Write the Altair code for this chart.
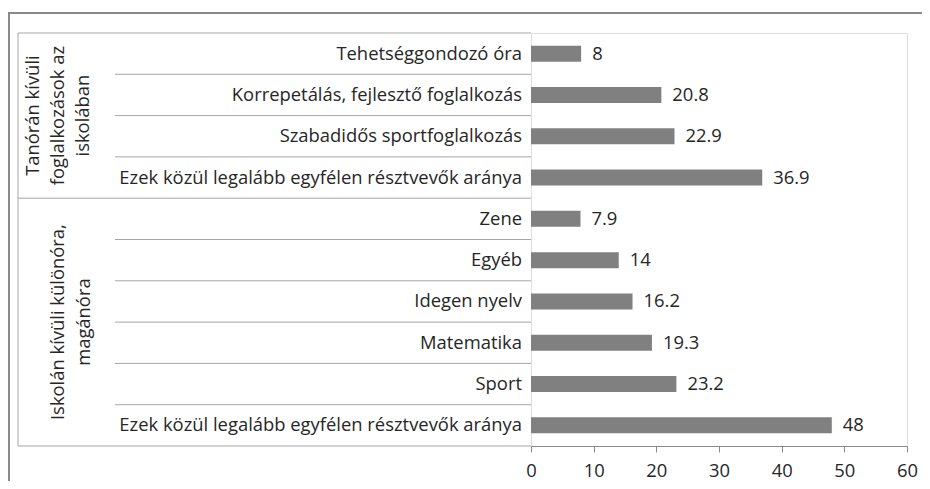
import altair as alt
import pandas as pd

keys = ["a1", "a2", "a3", "a4", "b1", "b2", "b3", "b4", "b5", "b6"]
labels = [
    "Tehetséggondozó óra",
    "Korrepetálás, fejlesztő foglalkozás",
    "Szabadidős sportfoglalkozás",
    "Ezek közül legalább egyfélen résztvevők aránya",
    "Zene",
    "Egyéb",
    "Idegen nyelv",
    "Matematika",
    "Sport",
    "Ezek közül legalább egyfélen résztvevők aránya",
]
values = [8, 20.8, 22.9, 36.9, 7.9, 14, 16.2, 19.3, 23.2, 48]
groups = ["g1"] * 4 + ["g2"] * 6
group_first = [True, False, False, False, True, False, False, False, False, False]

group_ids = ["g1", "g2"]
group_labels = ["Tanórán kívüli\nfoglalkozások az\niskolában", "Iskolán kívüli különóra,\nmagánóra"]
group_anchor = ["a2", "b3"]

x_ticks = [0, 10, 20, 30, 40, 50, 60]

df = pd.DataFrame({"key": keys, "label": labels, "value": values, "group": groups, "first": group_first})
gdf = pd.DataFrame({"group": group_ids, "text": group_labels, "anchor": group_anchor})
one = pd.DataFrame({"a": [0]})

W, H = 376, 413
FONT = "Open Sans"
FS = 18.4
TXT = "#262626"
LINE = "#a6a6a6"

yscale = alt.Scale(domain=keys, paddingInner=0, paddingOuter=0)
ynoaxis = alt.Y("key:N", scale=yscale, axis=None)

base = alt.Chart(df)

border = alt.Chart(one).mark_rect(fill=None, stroke="#8a8a8a", strokeWidth=2).encode(
    x=alt.value(-522), x2=alt.value(W + 60), y=alt.value(-20), y2=alt.value(H + 80)
)

left_line = alt.Chart(one).mark_rule(color=LINE, strokeWidth=1).encode(
    x=alt.value(-513), y=alt.value(0), y2=alt.value(H)
)
bottom_line = alt.Chart(one).mark_rule(color=LINE, strokeWidth=1).encode(
    x=alt.value(-513), x2=alt.value(0), y=alt.value(H)
)

sep_first = base.transform_filter("datum.first").mark_rule(color=LINE, strokeWidth=1).encode(
    y=alt.Y("key:N", scale=yscale, axis=None, bandPosition=0),
    x=alt.value(-513), x2=alt.value(0),
)
sep_other = base.transform_filter("!datum.first").mark_rule(color=LINE, strokeWidth=1).encode(
    y=alt.Y("key:N", scale=yscale, axis=None, bandPosition=0),
    x=alt.value(-416), x2=alt.value(0),
)

bars = base.mark_bar(color="#808080", height=16).encode(
    x=alt.X(
        "value:Q",
        scale=alt.Scale(domain=[0, 60], nice=False),
        axis=alt.Axis(
            values=x_ticks, title=None, grid=False, domainColor="#8a8a8a", tickColor="#8a8a8a",
            tickSize=6, labelPadding=9, labelFont=FONT, labelFontSize=FS, labelColor=TXT,
            labelFlush=False,
        ),
    ),
    y=alt.Y("key:N", scale=yscale,
            axis=alt.Axis(labels=False, ticks=False, title=None, domainColor="#8a8a8a", grid=False)),
)

vals = base.mark_text(align="left", baseline="middle", dx=11, font=FONT, fontSize=FS, color=TXT).encode(
    x="value:Q", y=ynoaxis, text=alt.Text("value:Q", format="")
)

cats = base.mark_text(align="right", baseline="middle", font=FONT, fontSize=FS, color=TXT).encode(
    x=alt.value(-9), y=ynoaxis, text="label:N"
)

g1 = alt.Chart(gdf).transform_filter("datum.group == 'g1'").mark_text(
    angle=270, align="center", baseline="middle", lineBreak="\n", lineHeight=25,
    font=FONT, fontSize=FS, color=TXT,
).encode(x=alt.value(-498), y=alt.Y("anchor:N", scale=yscale, axis=None, bandPosition=1), text="text:N")

g2 = alt.Chart(gdf).transform_filter("datum.group == 'g2'").mark_text(
    angle=270, align="center", baseline="middle", lineBreak="\n", lineHeight=26,
    font=FONT, fontSize=FS, color=TXT,
).encode(x=alt.value(-473), y=alt.Y("anchor:N", scale=yscale, axis=None, bandPosition=1), text="text:N")

chart = alt.layer(border, left_line, bottom_line, sep_first, sep_other, bars, vals, cats, g1, g2).properties(
    width=W, height=H,
    autosize=alt.AutoSizeParams(type="none"),
    padding={"left": 523, "top": 25, "right": 15, "bottom": 35},
).configure_view(stroke=None).configure(background="white")

chart.save("out.html", embed_options={"renderer": "svg", "actions": False})
